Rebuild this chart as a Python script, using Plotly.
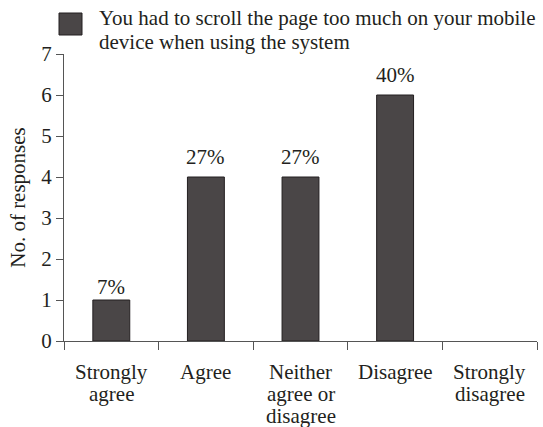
import plotly.graph_objects as go

categories = ["Strongly agree", "Agree", "Neither agree or disagree", "Disagree", "Strongly disagree"]
tick_lines = [["Strongly", "agree"], ["Agree"], ["Neither", "agree or", "disagree"], ["Disagree"], ["Strongly", "disagree"]]
responses = [1, 4, 4, 6, 0]
pct_labels = ["7%", "27%", "27%", "40%", ""]
series_name = ["You had to scroll the page too much on your mobile", "device when using the system"]
y_ticks = [0, 1, 2, 3, 4, 5, 6, 7]

FONT = "Liberation Serif"
FS = 21
TXT = "#231f20"
BAR = "#4a4647"
AX = "#555555"
label_gap = [13, 20, 20, 20, 20]

fig = go.Figure()
fig.add_trace(go.Bar(
    x=categories, y=responses, width=0.39, cliponaxis=False,
    marker=dict(color=BAR, line=dict(color="#231f20", width=[1 if v > 0 else 0 for v in responses])),
    showlegend=False,
))

annotations = []
for cat, val, lab, gap in zip(categories, responses, pct_labels, label_gap):
    if lab:
        annotations.append(dict(x=cat, xref="x", y=val, yref="y", text=lab, showarrow=False,
                                xanchor="center", yanchor="middle", yshift=gap,
                                font=dict(family=FONT, size=FS, color=TXT)))

line_shifts = [-31, -53, -75]
for cat, lines in zip(categories, tick_lines):
    for i, ln in enumerate(lines):
        annotations.append(dict(x=cat, xref="x", y=0, yref="paper", text=ln, showarrow=False,
                                xanchor="center", yanchor="middle", yshift=line_shifts[i],
                                font=dict(family=FONT, size=FS, color=TXT)))

fig.update_layout(
    width=543, height=427,
    margin=dict(l=64, r=6, t=54, b=86),
    paper_bgcolor="white", plot_bgcolor="white",
    font=dict(family=FONT, size=FS, color=TXT),
    xaxis=dict(showline=True, linecolor=AX, linewidth=1, ticks="outside", tickson="boundaries",
               ticklen=8, tickcolor=AX, showticklabels=False, showgrid=False, zeroline=False,
               range=[-0.5, 4.5]),
    yaxis=dict(range=[0, 7], tickvals=y_ticks, showline=True, linecolor=AX, linewidth=1,
               ticks="outside", ticklen=7, tickcolor=AX, showgrid=False, zeroline=False,
               tickfont=dict(family=FONT, size=FS, color=TXT),
               title=dict(text="No. of responses", font=dict(family=FONT, size=FS, color=TXT), standoff=9)),
)

pw = 543 - 64 - 6
ph = 427 - 54 - 86
def px(xpix):
    return (xpix - 64) / pw
def py(ypix):
    return (427 - 86 - ypix) / ph

fig.add_shape(type="rect", xref="paper", yref="paper",
              x0=px(59), x1=px(82), y0=py(35), y1=py(13),
              fillcolor=BAR, line=dict(color="#231f20", width=1))
for ln, ypix in zip(series_name, [18, 42]):
    annotations.append(dict(x=px(97), xref="paper", y=py(ypix), yref="paper", text=ln,
                            showarrow=False, xanchor="left", yanchor="middle",
                            font=dict(family=FONT, size=FS, color=TXT)))
fig.update_layout(annotations=annotations)

fig.write_html("out.html")
